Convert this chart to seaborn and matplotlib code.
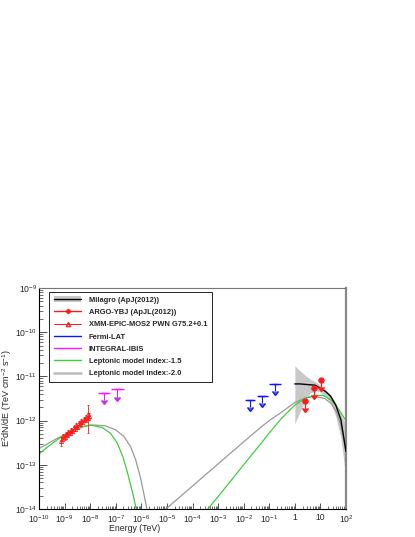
import numpy as np
import matplotlib
matplotlib.use("Agg")
import matplotlib.pyplot as plt
import matplotlib.ticker as mticker
from matplotlib.lines import Line2D
from matplotlib.patches import Patch
import seaborn as sns

sns.set_theme(style="white")
plt.rcParams["font.family"] = ["Liberation Sans", "DejaVu Sans"]
plt.rcParams["mathtext.default"] = "regular"

# ---- data (energies in TeV, fluxes in TeV cm^-2 s^-1) ----

# XMM-EPIC-MOS2 PWN spectrum points
xmm_energy = [7.1e-10, 7.9e-10, 8.9e-10, 1.0e-9, 1.12e-9, 1.26e-9, 1.41e-9, 1.58e-9,
              1.78e-9, 2.0e-9, 2.24e-9, 2.51e-9, 2.82e-9, 3.16e-9, 3.55e-9, 3.98e-9,
              4.47e-9, 5.01e-9, 5.62e-9, 6.31e-9, 7.08e-9, 7.94e-9, 8.5e-9, 8.9e-9]
xmm_flux = [3.5e-13, 3.9e-13, 4.5e-13, 4.2e-13, 5.0e-13, 4.8e-13, 5.6e-13, 5.2e-13,
            6.2e-13, 5.8e-13, 7.0e-13, 6.6e-13, 7.8e-13, 7.3e-13, 8.8e-13, 8.4e-13,
            9.8e-13, 9.2e-13, 1.1e-12, 1.05e-12, 1.22e-12, 1.15e-12, 1.38e-12, 1.3e-12]
xmm_err_lo = [0.9e-13, 0.4e-13, 0.5e-13, 0.5e-13, 0.5e-13, 0.5e-13, 0.6e-13, 0.5e-13,
              0.6e-13, 0.6e-13, 0.7e-13, 0.7e-13, 0.8e-13, 0.8e-13, 0.9e-13, 0.9e-13,
              1.0e-13, 1.0e-13, 1.2e-13, 1.2e-13, 1.4e-13, 1.4e-13, 8.6e-13, 1.5e-13]
xmm_err_hi = [0.7e-13, 0.4e-13, 0.5e-13, 0.5e-13, 0.5e-13, 0.5e-13, 0.6e-13, 0.5e-13,
              0.6e-13, 0.6e-13, 0.7e-13, 0.7e-13, 0.8e-13, 0.8e-13, 0.9e-13, 0.9e-13,
              1.0e-13, 1.0e-13, 1.2e-13, 1.2e-13, 1.4e-13, 1.4e-13, 8.2e-13, 1.5e-13]

# INTEGRAL-IBIS upper limits
integral_emin = [2.1e-8, 6.3e-8]
integral_emax = [5.9e-8, 2.1e-7]
integral_ul = [4.2e-12, 5.1e-12]

# Fermi-LAT upper limits
fermi_emin = [1.12e-2, 3.2e-2, 0.10]
fermi_emax = [2.75e-2, 9.1e-2, 0.28]
fermi_ul = [3.0e-12, 3.6e-12, 6.9e-12]

# ARGO-YBJ points
argo_energy = [2.6, 5.5, 11.0]
argo_flux = [2.75e-12, 5.5e-12, 8.1e-12]

# Milagro best fit and 1-sigma band (log10 E, log10 flux)
milagro_logE = [0.0, 0.2, 0.4, 0.6, 0.8, 1.0, 1.2, 1.4, 1.6, 1.8, 2.0]
milagro_best = [-11.17, -11.17, -11.18, -11.19, -11.20, -11.27, -11.34, -11.45, -11.65, -11.98, -12.70]
milagro_upper = [-10.76, -10.87, -10.97, -11.06, -11.12, -11.20, -11.30, -11.42, -11.60, -11.85, -12.10]
milagro_lower = [-12.07, -11.80, -11.55, -11.38, -11.32, -11.36, -11.45, -11.60, -11.90, -12.40, -13.30]

# Leptonic models (log10 E, log10 flux)
sync20_logE = [-10.0, -9.74, -9.35, -8.96, -8.57, -8.18, -7.85, -7.39, -7.0, -6.68, -6.42,
               -6.22, -6.03, -5.90, -5.80, -5.70]
sync20_logF = [-12.63, -12.55, -12.42, -12.31, -12.21, -12.12, -12.10, -12.12, -12.21, -12.36,
               -12.59, -12.89, -13.30, -13.66, -13.95, -14.30]
ic20_logE = [-5.25, -5.0, -4.0, -3.0, -2.0, -1.37, -1.0, -0.52, 0.0, 0.39, 0.78, 1.17, 1.43,
             1.63, 1.80, 1.93, 2.0]
ic20_logF = [-14.10, -13.98, -13.48, -12.98, -12.48, -12.17, -12.0, -11.81, -11.59, -11.49,
             -11.45, -11.50, -11.62, -11.81, -12.11, -12.48, -12.70]
sync15_logE = [-10.0, -9.74, -9.35, -8.83, -8.30, -7.98, -7.52, -7.20, -6.94, -6.72, -6.55,
               -6.35, -6.22, -6.12]
sync15_logF = [-12.76, -12.63, -12.46, -12.25, -12.14, -12.10, -12.16, -12.29, -12.51, -12.82,
               -13.16, -13.61, -13.95, -14.25]
ic15_logE = [-3.6, -3.4, -3.0, -2.0, -1.37, -1.0, -0.52, 0.0, 0.39, 0.78, 1.11, 1.43, 1.70,
             1.95, 2.0]
ic15_logF = [-14.15, -14.0, -13.72, -13.0, -12.55, -12.28, -11.95, -11.65, -11.50, -11.43,
             -11.43, -11.54, -11.73, -11.96, -12.0]

x_ticks = [1e-10, 1e-9, 1e-8, 1e-7, 1e-6, 1e-5, 1e-4, 1e-3, 1e-2, 1e-1, 1, 10, 100]
x_ticklabels = ["$10^{-10}$", "$10^{-9}$", "$10^{-8}$", "$10^{-7}$", "$10^{-6}$", "$10^{-5}$",
                "$10^{-4}$", "$10^{-3}$", "$10^{-2}$", "$10^{-1}$", "1", "10", "$10^{2}$"]
y_ticks = [1e-14, 1e-13, 1e-12, 1e-11, 1e-10, 1e-9]
y_ticklabels = ["$10^{-14}$", "$10^{-13}$", "$10^{-12}$", "$10^{-11}$", "$10^{-10}$", "$10^{-9}$"]

GREEN = "#3ccf3c"
GREY = "#9a9a9a"
BAND = "#c8c8c8"
RED = "#ff1a1a"
BLUE = "#1414ff"
MAGENTA = "#ff14ff"


def pw(a):
    return 10 ** np.array(a)


fig = plt.figure(figsize=(4.15, 5.37), dpi=100)
ax = fig.add_axes([39 / 415, 1 - 509 / 537, 307 / 415, 221 / 537])
ax.set_xscale("log")
ax.set_yscale("log")

# Milagro band
ax.fill_between(pw(milagro_logE), pw(milagro_lower), pw(milagro_upper), color=BAND, lw=0, zorder=1)

# leptonic models
for le, lf, col in [(sync20_logE, sync20_logF, GREY), (ic20_logE, ic20_logF, GREY),
                    (sync15_logE, sync15_logF, GREEN), (ic15_logE, ic15_logF, GREEN)]:
    sns.lineplot(x=pw(le), y=pw(lf), ax=ax, color=col, lw=0.9, sort=False,
                 estimator=None, zorder=2)

sns.lineplot(x=pw(milagro_logE), y=pw(milagro_best), ax=ax, color="black", lw=1.0,
             sort=False, estimator=None, zorder=3)

# XMM points
ax.errorbar(xmm_energy, xmm_flux, yerr=[xmm_err_lo, xmm_err_hi], fmt="^", ms=3,
            mfc="none", mec=RED, mew=0.6, ecolor=RED, elinewidth=0.6, capsize=1, zorder=4)


# upper limits: horizontal bar over the energy range + downward arrow
def draw_ul(emin, emax, ul, color):
    emin, emax, ul = np.array(emin), np.array(emax), np.array(ul)
    ec = np.sqrt(emin * emax)
    ax.errorbar(ec, ul, xerr=[ec - emin, emax - ec], fmt="none", ecolor=color,
                elinewidth=1.0, capsize=0, zorder=5)
    ax.errorbar(ec, ul, yerr=ul * 0.32, uplims=True, fmt="none", ecolor=color,
                elinewidth=0.8, capsize=2, zorder=5)


draw_ul(integral_emin, integral_emax, integral_ul, MAGENTA)
draw_ul(fermi_emin, fermi_emax, fermi_ul, BLUE)

argo_flux = np.array(argo_flux)
ax.errorbar(argo_energy, argo_flux, yerr=argo_flux * 0.3, uplims=True, fmt="o", ms=3.5,
            color=RED, elinewidth=0.9, capsize=2, zorder=5)

ax.set_xlim(1e-10, 100)
ax.set_ylim(1e-14, 1e-9)
ax.xaxis.set_major_locator(mticker.FixedLocator(x_ticks))
ax.xaxis.set_major_formatter(mticker.FixedFormatter(x_ticklabels))
ax.yaxis.set_major_locator(mticker.FixedLocator(y_ticks))
ax.yaxis.set_major_formatter(mticker.FixedFormatter(y_ticklabels))
ax.xaxis.set_minor_locator(mticker.LogLocator(base=10, subs=np.arange(2, 10), numticks=30))
ax.yaxis.set_minor_locator(mticker.LogLocator(base=10, subs=np.arange(2, 10), numticks=30))
ax.xaxis.set_minor_formatter(mticker.NullFormatter())
ax.yaxis.set_minor_formatter(mticker.NullFormatter())
ax.tick_params(which="both", direction="in", color="#333333", top=False, right=False,
               bottom=True, left=True, labelsize=6.2)
ax.tick_params(axis="x", which="major", length=4.5, width=0.6, pad=3)
ax.tick_params(axis="x", which="minor", length=2.3, width=0.5)
ax.tick_params(axis="y", which="major", length=5.5, width=0.6, pad=1.5)
ax.tick_params(axis="y", which="minor", length=2.8, width=0.5)

for side in ["left", "bottom"]:
    ax.spines[side].set_color("black")
    ax.spines[side].set_linewidth(0.8)
ax.spines["top"].set_color("#777777")
ax.spines["top"].set_linewidth(0.8)
ax.spines["right"].set_color("#888888")
ax.spines["right"].set_linewidth(1.6)

ax.set_xlabel("Energy (TeV)", fontsize=6.3)
ax.xaxis.set_label_coords(0.31, -0.068)
ax.set_ylabel("E$^{2}$dN/dE (TeV cm$^{-2}$ s$^{-1}$)", fontsize=6.5)
ax.yaxis.set_label_coords(-0.082, 0.5)

handles = [
    (Patch(color=BAND, lw=0), Line2D([], [], color="black", lw=1.0)),
    Line2D([], [], color=RED, lw=1.0, marker="o", ms=2.5),
    Line2D([], [], color=RED, lw=0.7, marker="^", ms=3, mfc="none"),
    Line2D([], [], color=BLUE, lw=1.0),
    Line2D([], [], color=MAGENTA, lw=1.0),
    Line2D([], [], color=GREEN, lw=1.0),
    Line2D([], [], color="#bbbbbb", lw=1.8),
]
labels = ["Milagro (ApJ(2012))", "ARGO-YBJ (ApJL(2012))", "XMM-EPIC-MOS2 PWN G75.2+0.1",
          "Fermi-LAT", "INTEGRAL-IBIS", "Leptonic model index:-1.5",
          "Leptonic model index:-2.0"]
leg = ax.legend(handles, labels, loc="upper left", bbox_to_anchor=(0.033, 0.982),
                borderaxespad=0, frameon=True, fancybox=False, framealpha=1,
                edgecolor="black", prop={"size": 5.4, "weight": "bold"},
                handlelength=3.7, handletextpad=0.95, labelspacing=0.67,
                borderpad=0.6)
leg.get_frame().set_linewidth(0.6)

fig.savefig("out.png", dpi=100, facecolor="white")
